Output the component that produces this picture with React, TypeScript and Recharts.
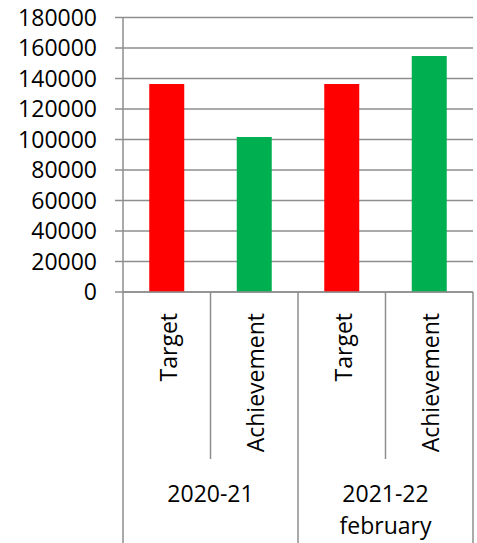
import React from 'react';
import { BarChart, Bar, XAxis, YAxis, CartesianGrid, Cell } from 'recharts';

const categories = ['Target', 'Achievement', 'Target', 'Achievement'];
const values = [136400, 101600, 136400, 154800];
const groupLabels = [['2020-21'], ['2021-22', 'february']];
const yTicks = [0, 20000, 40000, 60000, 80000, 100000, 120000, 140000, 160000, 180000];

const data = categories.map((name, i) => ({ name, value: values[i], idx: i }));

const W = 477;
const H = 543;
const MARGIN = { top: 17.5, right: 4, bottom: 0, left: 0 };
const Y_AXIS_W = 123;
const X_AXIS_H = 251;
const BAND = (W - Y_AXIS_W - MARGIN.left - MARGIN.right) / categories.length;
const GRAY = '#8e8e8e';
const FONT = "'Open Sans', sans-serif";
const FS = 23;
const colorFor = (name: string) => (name === 'Target' ? '#FF0000' : '#00B050');

const XTick = (props: any) => {
  const { x, y, payload } = props;
  const i = payload.index;
  const left = x - BAND / 2;
  const right = x + BAND / 2;
  const isGroupStart = i % 2 === 0;
  const bottom = H - y;
  const top = 21;
  const els: any[] = [];
  els.push(
    <line key="l" x1={left} x2={left} y1={y} y2={isGroupStart ? y + bottom : y + 167} stroke={GRAY} strokeWidth={1.5} />
  );
  if (i === categories.length - 1) {
    els.push(<line key="r" x1={right} x2={right} y1={y} y2={y + bottom} stroke={GRAY} strokeWidth={1.5} />);
  }
  els.push(
    <text
      key="t"
      x={x}
      y={y + top}
      dy="0.44em"
      transform={`rotate(-90, ${x}, ${y + top})`}
      textAnchor="end"
      fontFamily={FONT}
      fontSize={FS}
      fill="#000"
    >
      {payload.value}
    </text>
  );
  if (!isGroupStart) {
    const g = groupLabels[(i - 1) / 2];
    els.push(
      <text key="g" x={left} y={y + 210} textAnchor="middle" fontFamily={FONT} fontSize={FS} fill="#000">
        {g.map((s, k) => (
          <tspan key={k} x={left} dy={k === 0 ? 0 : 32}>
            {s}
          </tspan>
        ))}
      </text>
    );
  }
  return <g>{els}</g>;
};

export default function App() {
  return (
    <div style={{ position: 'absolute', left: 0, top: 0, width: W, height: H, background: '#fff' }}>
      <BarChart width={W} height={H} data={data} margin={MARGIN} barCategoryGap="30%">
        <CartesianGrid vertical={false} stroke={GRAY} strokeWidth={1.5} strokeDasharray="" />
        <XAxis
          dataKey="name"
          interval={0}
          height={X_AXIS_H}
          tickSize={0}
          tickMargin={0}
          tickLine={false}
          axisLine={{ stroke: GRAY, strokeWidth: 1.5 }}
          tick={<XTick />}
        />
        <YAxis
          width={Y_AXIS_W}
          domain={[0, 180000]}
          ticks={yTicks}
          interval={0}
          tickSize={8}
          tickMargin={18}
          tickLine={{ stroke: GRAY, strokeWidth: 1.5 }}
          axisLine={{ stroke: GRAY, strokeWidth: 1.5 }}
          tick={{ fontFamily: FONT, fontSize: FS, fill: '#000' }}
        />
        <Bar dataKey="value" isAnimationActive={false}>
          {data.map((d, i) => (
            <Cell key={i} fill={colorFor(d.name)} />
          ))}
        </Bar>
      </BarChart>
    </div>
  );
}
